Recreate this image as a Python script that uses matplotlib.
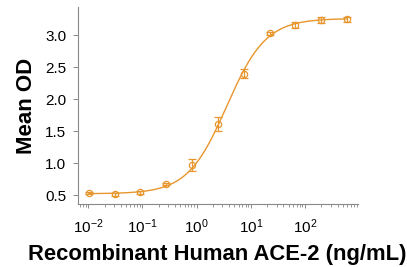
import numpy as np
import matplotlib
matplotlib.use('Agg')
import matplotlib.pyplot as plt
from matplotlib.ticker import LogLocator, NullFormatter

plt.rcParams['font.family'] = ['Liberation Sans', 'DejaVu Sans']
plt.rcParams['mathtext.fontset'] = 'custom'
plt.rcParams['mathtext.rm'] = 'Liberation Sans'
plt.rcParams['mathtext.default'] = 'regular'

# Data
conc = [0.0102, 0.0305, 0.0914, 0.274, 0.823, 2.47, 7.41, 22.2, 66.7, 200, 600]
mean_od = [0.53, 0.51, 0.54, 0.67, 0.97, 1.61, 2.40, 3.03, 3.16, 3.24, 3.25]
sd_od = [0.02, 0.02, 0.02, 0.02, 0.10, 0.11, 0.07, 0.02, 0.05, 0.05, 0.04]

# 4PL fit parameters estimated from the curve
bottom, top, ec50, hill = 0.52, 3.26, 3.6, 1.2

color = '#E8962E'

fig = plt.figure(figsize=(4.07, 2.67), dpi=100)
ax = fig.add_axes([78/407, 1 - 204/267, 280/407, 197/267])

xs = np.logspace(np.log10(conc[0]), np.log10(conc[-1]), 300)
ys = bottom + (top - bottom) / (1 + (ec50 / xs) ** hill)
ax.plot(xs, ys, color=color, lw=1.0)
ax.errorbar(conc, mean_od, yerr=sd_od, fmt='o', mfc='none', mec=color, ms=4.5,
            mew=0.9, ecolor=color, elinewidth=0.9, capsize=3, capthick=0.9)

ax.set_xscale('log')
ax.set_xlim(10**-2.19, 10**2.98)
ax.set_ylim(0.36, 3.44)
ax.set_yticks([0.5, 1.0, 1.5, 2.0, 2.5, 3.0])
ax.set_yticklabels(['0.5', '1.0', '1.5', '2.0', '2.5', '3.0'])
ax.xaxis.set_major_locator(LogLocator(base=10, numticks=10))
ax.xaxis.set_minor_locator(LogLocator(base=10, subs=np.arange(2, 10), numticks=20))
ax.xaxis.set_minor_formatter(NullFormatter())

for s in ['top', 'right']:
    ax.spines[s].set_visible(False)
for s in ['left', 'bottom']:
    ax.spines[s].set_color('#888888')
    ax.spines[s].set_linewidth(0.8)
ax.tick_params(axis='y', which='major', length=3.5, width=0.7, color='#888888',
               labelsize=11, pad=5)
ax.tick_params(axis='x', which='major', length=3, width=0.7, color='#888888',
               labelsize=11, pad=7)
ax.tick_params(axis='x', which='minor', length=2, width=0.6, color='#888888')

ax.set_ylabel('Mean OD', fontsize=16, fontweight='bold', labelpad=6)
fig.text(217.5/407, 1 - 260/267, 'Recombinant Human ACE-2 (ng/mL)', fontsize=15.8,
         fontweight='bold', ha='center', va='baseline')

fig.savefig('out.png', dpi=100)
